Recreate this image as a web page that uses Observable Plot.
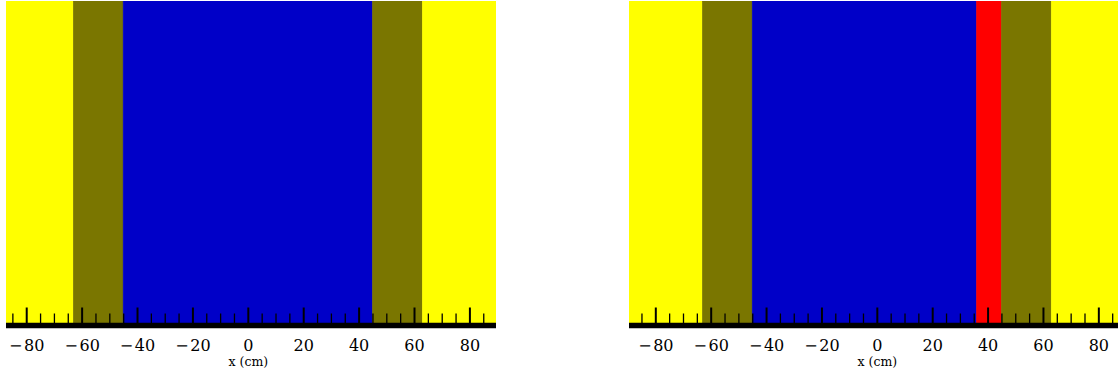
<!DOCTYPE html>
<html>
<head>
<meta charset="utf-8">
<script src="https://cdn.jsdelivr.net/npm/d3@7"></script>
<script src="https://cdn.jsdelivr.net/npm/@observablehq/plot@0.6"></script>
<style>
  html, body { margin: 0; padding: 0; background: #ffffff; overflow: hidden; }
  #wrap { position: relative; width: 1118px; height: 374px; }
  #wrap > div { position: absolute; top: 0; }
</style>
</head>
<body>
<div id="wrap"><div id="left"></div><div id="right"></div></div>
<script>
// ---- data ----
const majorTicks = [-80, -60, -40, -20, 0, 20, 40, 60, 80];
const minorTicks = [-85, -75, -70, -65, -55, -50, -45, -35, -30, -25, -15, -10, -5,
                    5, 10, 15, 25, 30, 35, 45, 50, 55, 65, 70, 75, 85];
const regionNames = ["outer", "wall", "core", "insert"];
const regionColors = ["#ffff00", "#7a7600", "#0000c8", "#ff0000"];

const leftEdges = [-100, -63, -45, 45, 63, 100];
const leftRegions = ["outer", "wall", "core", "wall", "outer"];
const leftDomain = [-87.3, 89.6];

const rightEdges = [-100, -63, -45, 36, 45, 63, 100];
const rightRegions = ["outer", "wall", "core", "insert", "wall", "outer"];
const rightDomain = [-89.5, 87.1];

const axisLabel = "x (cm)";

// ---- build ----
function bands(edges, regions) {
  return regions.map((r, i) => ({x1: edges[i], x2: edges[i + 1], region: r}));
}
const fmt = d => d < 0 ? "\u2212\u200A" + Math.abs(d) : String(d);

function panel(edges, regions, domain, width, marginLeft, marginRight) {
  const inDomain = v => v >= domain[0] && v <= domain[1];
  return Plot.plot({
    width, height: 374,
    marginTop: 1, marginBottom: 49, marginLeft, marginRight,
    x: {domain, label: null},
    y: {domain: [0, 1], axis: null},
    color: {domain: regionNames, range: regionColors},
    style: {fontFamily: "DejaVu Serif", fontSize: "16px", background: "transparent", overflow: "visible"},
    marks: [
      Plot.rect(bands(edges, regions), {x1: "x1", x2: "x2", y1: 0, y2: 1, fill: "region", stroke: "region", strokeWidth: 0.6, clip: true}),
      Plot.ruleX(minorTicks.filter(inDomain), {x: d => d, y1: 0, y2: 0.0355, stroke: "black", strokeWidth: 1.3}),
      Plot.ruleX(majorTicks.filter(inDomain), {x: d => d, y1: 0, y2: 0.054, stroke: "black", strokeWidth: 2}),
      Plot.ruleY([0], {y: d => d, stroke: "black", strokeWidth: 5.3}),
      Plot.axisX(majorTicks, {tickSize: 0, tickPadding: 14, tickFormat: fmt, fontSize: 16, fill: "black", label: null}),
      Plot.text([axisLabel], {x: () => 0, text: d => d, frameAnchor: "bottom", dy: 40.5, fontSize: 12.5, fill: "black"})
    ]
  });
}

const L = document.getElementById("left");
L.style.left = "0px";
L.appendChild(panel(leftEdges, leftRegions, leftDomain, 510, 6, 14));

const R = document.getElementById("right");
R.style.left = "623px";
R.appendChild(panel(rightEdges, rightRegions, rightDomain, 495, 6, 0));
</script>
</body>
</html>
